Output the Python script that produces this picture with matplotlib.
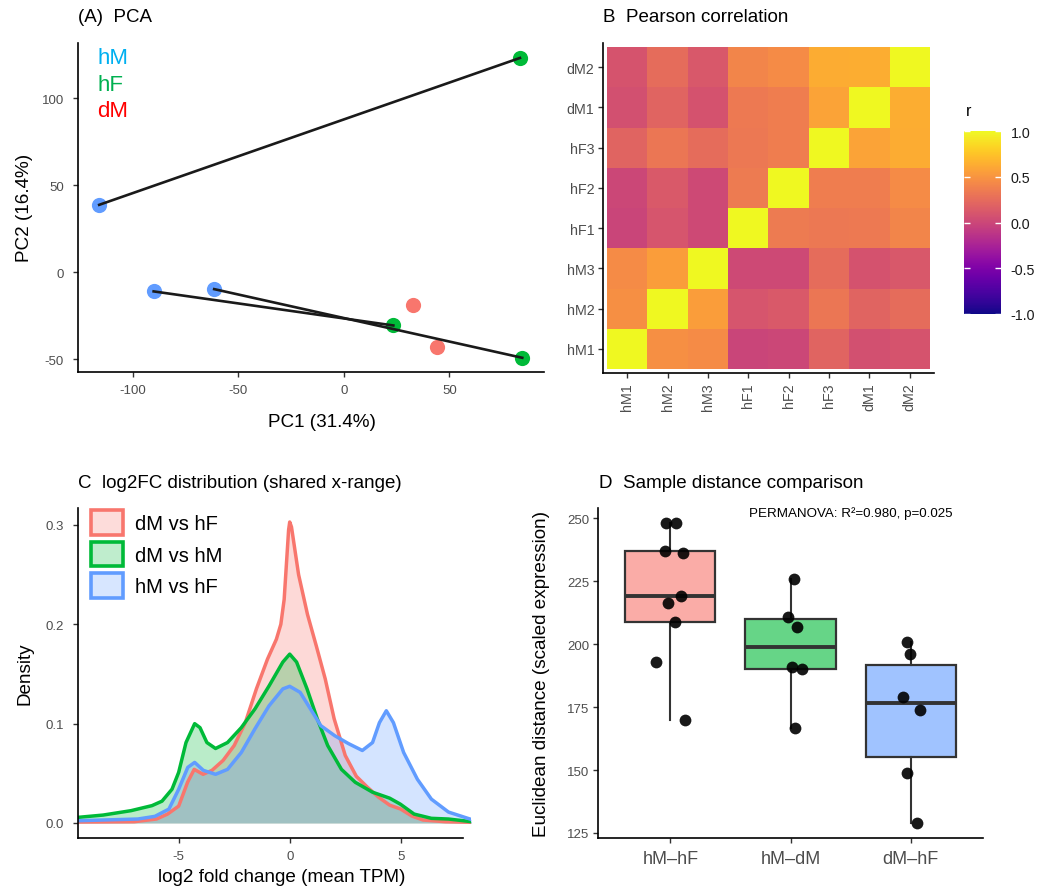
import numpy as np
import matplotlib
matplotlib.use('Agg')
import matplotlib.pyplot as plt
from matplotlib.patches import Patch

plt.rcParams['font.family'] = ['Liberation Sans', 'DejaVu Sans']
plt.rcParams['axes.unicode_minus'] = False

W, H = 1039, 895

# ---- (A) PCA ----
pca_hM_x = [-116.0, -90.2, -61.5]
pca_hM_y = [38.7, -11.1, -9.8]
pca_hF_x = [83.4, 23.4, 84.5]
pca_hF_y = [123.2, -30.7, -49.3]
pca_dM_x = [32.9, 43.9]
pca_dM_y = [-18.8, -43.1]
pair_hM = [0, 1, 2]   # hM sample index
pair_hF = [0, 1, 2]   # matched hF sample index

# ---- (B) Pearson correlation ----
samples = ['hM1', 'hM2', 'hM3', 'hF1', 'hF2', 'hF3', 'dM1', 'dM2']
corr = np.array([
    [1.00, 0.47, 0.45, -0.01, 0.00, 0.20, 0.07, 0.09],
    [0.47, 1.00, 0.55, 0.10, 0.13, 0.32, 0.20, 0.25],
    [0.45, 0.55, 1.00, 0.02, 0.02, 0.25, 0.08, 0.12],
    [-0.01, 0.10, 0.02, 1.00, 0.35, 0.33, 0.34, 0.41],
    [0.00, 0.13, 0.02, 0.35, 1.00, 0.36, 0.36, 0.45],
    [0.20, 0.32, 0.25, 0.33, 0.36, 1.00, 0.58, 0.63],
    [0.07, 0.20, 0.08, 0.34, 0.36, 0.58, 1.00, 0.64],
    [0.09, 0.25, 0.12, 0.41, 0.45, 0.63, 0.64, 1.00],
])

# ---- (C) log2FC densities ----
red_x = [-9.5, -7, -6, -5.5, -5, -4.6, -4.3, -3.9, -3.5, -3, -2.5, -2, -1.5, -1,
         -0.6, -0.4, -0.25, -0.15, -0.05, 0, 0.08, 0.2, 0.4, 0.8, 1.2, 1.6, 2,
         2.5, 3, 3.5, 4, 4.5, 5, 5.5, 6, 7, 8.2]
red_y = [0.001, 0.0013, 0.004, 0.009, 0.017, 0.041, 0.054, 0.049, 0.053, 0.063,
         0.078, 0.101, 0.135, 0.165, 0.185, 0.2, 0.225, 0.26, 0.295, 0.303, 0.298,
         0.28, 0.25, 0.21, 0.178, 0.145, 0.105, 0.068, 0.047, 0.036, 0.026, 0.018,
         0.014, 0.007, 0.003, 0.0013, 0.0007]
green_x = [-9.52, -8.4, -7.15, -6.2, -5.75, -5.3, -5, -4.67, -4.28, -4.04, -3.73,
           -3.34, -2.8, -2.18, -1.56, -0.93, -0.31, 0, 0.31, 0.78, 1.24, 1.71,
           2.33, 2.95, 3.73, 4.5, 4.98, 5.6, 6.38, 7.15, 8.2]
green_y = [0.0057, 0.008, 0.0124, 0.0175, 0.022, 0.034, 0.051, 0.081, 0.1, 0.096,
           0.081, 0.075, 0.081, 0.096, 0.115, 0.138, 0.162, 0.17, 0.162, 0.135,
           0.105, 0.078, 0.054, 0.041, 0.031, 0.025, 0.019, 0.009, 0.0047, 0.004,
           0.0013]
blue_x = [-9.52, -6.84, -6.07, -5.44, -5, -4.59, -4.28, -3.89, -3.34, -2.8, -2.18,
          -1.56, -0.93, -0.31, 0, 0.47, 0.93, 1.4, 2.02, 2.64, 3.27, 3.73, 4.04,
          4.35, 4.67, 5.13, 5.75, 6.38, 7.15, 8.2]
blue_y = [0.0023, 0.004, 0.0067, 0.014, 0.034, 0.056, 0.061, 0.053, 0.049, 0.054,
          0.071, 0.095, 0.118, 0.135, 0.1376, 0.1315, 0.115, 0.098, 0.088, 0.08,
          0.073, 0.081, 0.101, 0.113, 0.101, 0.071, 0.044, 0.024, 0.011, 0.0034]
dens_labels = ['dM vs hF', 'dM vs hM', 'hM vs hF']

# ---- (D) sample distances ----
dist_groups = ['hM\u2013hF', 'hM\u2013dM', 'dM\u2013hF']
dist_hMhF = [248.0, 248.0, 237.1, 236.1, 219.1, 216.3, 208.9, 192.9, 169.8]
dist_hMdM = [225.9, 210.9, 206.8, 190.8, 190.1, 166.9]
dist_dMhF = [200.7, 196.1, 178.9, 174.0, 148.8, 128.9]
jit_hMhF = [-0.033, 0.047, -0.044, 0.108, 0.091, -0.019, 0.036, -0.116, 0.119]
jit_hMdM = [0.03, -0.017, 0.055, 0.011, 0.094, 0.036]
jit_dMhF = [-0.028, -0.006, -0.061, 0.077, -0.028, 0.055]

RED, GREEN, BLUE = '#F8766D', '#00BA38', '#619CFF'
TICKC, LABC = '#333333', '#4D4D4D'


def px_axes(l, t, r, b):
    return fig.add_axes([l / W, 1 - b / H, (r - l) / W, (b - t) / H])


def classic(ax, lsize, ypad=3, xpad=3):
    for s in ['top', 'right']:
        ax.spines[s].set_visible(False)
    for s in ['left', 'bottom']:
        ax.spines[s].set_linewidth(1.2)
    ax.tick_params(length=3.5, width=1, color=TICKC, labelcolor=LABC,
                   labelsize=lsize)
    ax.tick_params(axis='y', pad=ypad)
    ax.tick_params(axis='x', pad=xpad)


fig = plt.figure(figsize=(W / 100, H / 100), dpi=100)
fig.patch.set_facecolor('white')

# ===== Panel A =====
ax = px_axes(78.3, 44, 543.8, 372.7)
ax.scatter(pca_hM_x, pca_hM_y, s=120, color=BLUE, zorder=2, linewidths=0)
ax.scatter(pca_hF_x, pca_hF_y, s=120, color=GREEN, zorder=2, linewidths=0)
ax.scatter(pca_dM_x, pca_dM_y, s=120, color=RED, zorder=2, linewidths=0)
for i, j in zip(pair_hM, pair_hF):
    ax.plot([pca_hM_x[i], pca_hF_x[j]], [pca_hM_y[i], pca_hF_y[j]],
            color='#1a1a1a', lw=1.9, zorder=3)
ax.set_xlim(-125.9, 94.7)
ax.set_ylim(-57.3, 131.8)
ax.set_xticks([-100, -50, 0, 50])
ax.set_yticks([-50, 0, 50, 100])
classic(ax, 9.5, ypad=7, xpad=5)
ax.text(-117, 123.6, 'hM', color='#00B0F0', fontsize=16, va='center')
ax.text(-117, 108.2, 'hF', color='#00B050', fontsize=16, va='center')
ax.text(-117, 92.9, 'dM', color='#FF0000', fontsize=16, va='center')
fig.text(322 / W, 1 - 422.7 / H, 'PC1 (31.4%)', fontsize=13.6,
         ha='center', va='center')
fig.text(24.6 / W, 1 - 208.4 / H, 'PC2 (16.4%)', fontsize=13.6,
         ha='center', va='center', rotation=90)
fig.text(78 / W, 1 - 18 / H, '(A)  PCA', fontsize=13.5, va='center')

# ===== Panel B =====
ax = px_axes(603.3, 44, 933.8, 374)
im = ax.imshow(corr, cmap='plasma', vmin=-1, vmax=1, origin='lower',
               aspect='auto', interpolation='nearest')
ax.set_xlim(-0.6, 7.6)
ax.set_ylim(-0.6, 7.6)
ax.set_xticks(range(len(samples)))
ax.set_xticklabels(samples, rotation=90)
ax.set_yticks(range(len(samples)))
ax.set_yticklabels(samples)
classic(ax, 10.3)
fig.text(603 / W, 1 - 18 / H, 'B  Pearson correlation', fontsize=13.5,
         va='center')

cax = px_axes(964, 132, 1001, 315)
cb = fig.colorbar(im, cax=cax, ticks=[-1, -0.5, 0, 0.5, 1])
cb.outline.set_visible(False)
cb.ax.set_yticklabels(['-1.0', '-0.5', '0.0', '0.5', '1.0'])
cax.tick_params(direction='in', color='white', length=4, width=1,
                left=True, right=True, labelsize=10.3, labelcolor='#1a1a1a',
                pad=7)
fig.text(966 / W, 1 - 112 / H, 'r', fontsize=11.5, va='center')

# ===== Panel C =====
ax = px_axes(78.3, 509.3, 470.7, 838.7)
for xs, ys, col in [(red_x, red_y, RED), (green_x, green_y, GREEN),
                    (blue_x, blue_y, BLUE)]:
    ax.fill_between(xs, ys, 0, color=col, alpha=0.27, linewidth=0)
    ax.plot(xs, ys, color=col, lw=2.5, solid_joinstyle='round')
ax.set_xlim(-9.52, 8.15)
ax.set_ylim(-0.0148, 0.3168)
ax.set_xticks([-5, 0, 5])
ax.set_yticks([0.0, 0.1, 0.2, 0.3])
ax.set_yticklabels(['0.0', '0.1', '0.2', '0.3'])
classic(ax, 9.5, ypad=7, xpad=5)
ax.spines['bottom'].set_bounds(-9.52, 7.82)
handles = [Patch(facecolor=matplotlib.colors.to_rgba(c, 0.25), edgecolor=c,
                 linewidth=2.6) for c in [RED, GREEN, BLUE]]
fig.legend(handles, dens_labels, loc='upper left',
           bbox_to_anchor=(91 / W, 1 - 511 / H), frameon=False,
           fontsize=14.5, handlelength=1.6, handleheight=1.5,
           handletextpad=0.6, labelspacing=0.35, borderpad=0,
           borderaxespad=0)
fig.text(281.7 / W, 1 - 878 / H, 'log2 fold change (mean TPM)',
         fontsize=13.6, ha='center', va='center')
fig.text(25 / W, 1 - 674 / H, 'Density', fontsize=13.6, ha='center',
         va='center', rotation=90)
fig.text(78 / W, 1 - 483 / H, 'C  log2FC distribution (shared x-range)',
         fontsize=13.5, va='center')

# ===== Panel D =====
ax = px_axes(598.3, 509.3, 982.7, 839)
groups = [dist_hMhF, dist_hMdM, dist_dMhF]
jitters = [jit_hMhF, jit_hMdM, jit_dMhF]
bp = ax.boxplot(groups, positions=[1, 2, 3], widths=0.75, patch_artist=True,
                showfliers=False, showcaps=False, whis=1.5,
                medianprops=dict(color='#333333', lw=2.8),
                boxprops=dict(edgecolor='#333333', lw=1.6),
                whiskerprops=dict(color='#333333', lw=1.5))
for patch, col in zip(bp['boxes'], [RED, GREEN, BLUE]):
    patch.set_facecolor(matplotlib.colors.to_rgba(col, 0.6))
for k, (vals, jit) in enumerate(zip(groups, jitters)):
    ax.scatter(np.array(jit) + k + 1, vals, s=72, color='black', alpha=0.9,
               linewidths=0, zorder=4)
ax.set_xlim(0.4, 3.6)
ax.set_ylim(123, 254)
ax.set_xticks([1, 2, 3])
ax.set_xticklabels(dist_groups)
ax.set_yticks([125, 150, 175, 200, 225, 250])
classic(ax, 9.5, ypad=3, xpad=5)
ax.tick_params(axis='x', labelsize=13)
ax.text(2.5, 252.1, 'PERMANOVA: R\u00b2=0.980, p=0.025', fontsize=9.6,
        ha='center', va='center')
fig.text(541.7 / W, 1 - 674 / H, 'Euclidean distance (scaled expression)',
         fontsize=13.6, ha='center', va='center', rotation=90)
fig.text(599 / W, 1 - 483 / H, 'D  Sample distance comparison',
         fontsize=13.5, va='center')

fig.savefig('out.png', dpi=100)
